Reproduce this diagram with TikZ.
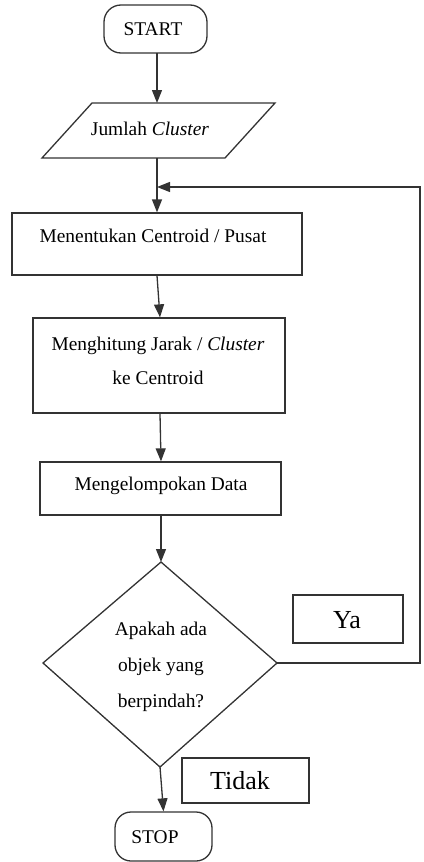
\documentclass[tikz,border=0pt]{standalone}
\usepackage{fontspec}
\setmainfont{Liberation Serif}
\usetikzlibrary{arrows.meta}
\tikzset{
 ln/.style={line width=1.3pt, draw=black!80},
 arr/.style={ln, -{Triangle[length=13pt,width=10pt]}},
 boxst/.style={ln, rectangle, inner sep=0pt},
 termst/.style={ln, rectangle, rounded corners=17pt, inner sep=0pt},
 txt/.style={font=\fontsize{19.4}{34}\selectfont, inner sep=0pt, align=center},
 bigtxt/.style={font=\fontsize{26}{30}\selectfont, inner sep=0pt},
}
\begin{document}
\begin{tikzpicture}[x=1pt,y=-1pt]
\useasboundingbox (0,0) rectangle (423,862);
% START
\node[termst, minimum width=103pt, minimum height=48pt] (start) at (155.5,29) {};
\node[txt] (startT) at (153,29) {START};
% parallelogram
\coordinate (pTL) at (92,103);
\coordinate (pTR) at (275,103);
\coordinate (pBR) at (225,158);
\coordinate (pBL) at (42,158);
\coordinate (pT) at (157,103);
\coordinate (pB) at (157,158);
\draw[ln] (pTL) -- (pTR) -- (pBR) -- (pBL) -- cycle;
\node[txt] (parT) at (150,129) {Jumlah \textit{Cluster}};
% box 1
\node[boxst, minimum width=290pt, minimum height=62pt] (b1) at (157,244) {};
\node[txt] (b1T) at (153,236) {Menentukan Centroid / Pusat};
% box 2
\node[boxst, minimum width=252pt, minimum height=95pt] (b2) at (159,365.5) {};
\node[txt] (b2T) at (158,361) {Menghitung Jarak / \textit{Cluster}\\ke Centroid};
% box 3
\node[boxst, minimum width=241pt, minimum height=53pt] (b3) at (160.5,488.5) {};
\node[txt] (b3T) at (161,486) {Mengelompokan Data};
% diamond
\coordinate (dT) at (161,562);
\coordinate (dL) at (43,663);
\coordinate (dR) at (277,663);
\coordinate (dB) at (160,767);
\draw[ln] (dT) -- (dR) -- (dB) -- (dL) -- cycle;
\node[txt, font=\fontsize{19.4}{36}\selectfont] (dT2) at (161,667) {Apakah ada\\objek yang\\berpindah?};
% labels
\node[boxst, minimum width=110pt, minimum height=48pt] (ya) at (348,619) {};
\node[bigtxt] (yaT) at (347,620) {Ya};
\node[boxst, minimum width=127pt, minimum height=45pt] (tidak) at (245.5,780.5) {};
\node[bigtxt] (tidakT) at (240,781) {Tidak};
% STOP
\node[termst, minimum width=97pt, minimum height=49pt, rounded corners=16pt] (stop) at (163.5,836.5) {};
\node[txt] (stopT) at (155,837) {STOP};
% connectors
\draw[arr] (157,53) -- (pT);
\draw[ln] (pB) -- (157,200);
\draw[arr] (157,200) -- (b1.north -| 157,0);
\coordinate (loopA) at (420,663);
\coordinate (loopB) at (420,187);
\coordinate (loopC) at (157,187);
\draw[arr] (dR) -- (loopA) -- (loopB) -- (loopC);
\draw[arr] (b1.south -| 157,0) -- (b2.north -| 160,0);
\draw[arr] (b2.south -| 160,0) -- (b3.north -| 161,0);
\draw[arr] (b3.south -| 161,0) -- (dT);
\draw[arr] (dB) -- (stop.north);
\end{tikzpicture}
\end{document}
